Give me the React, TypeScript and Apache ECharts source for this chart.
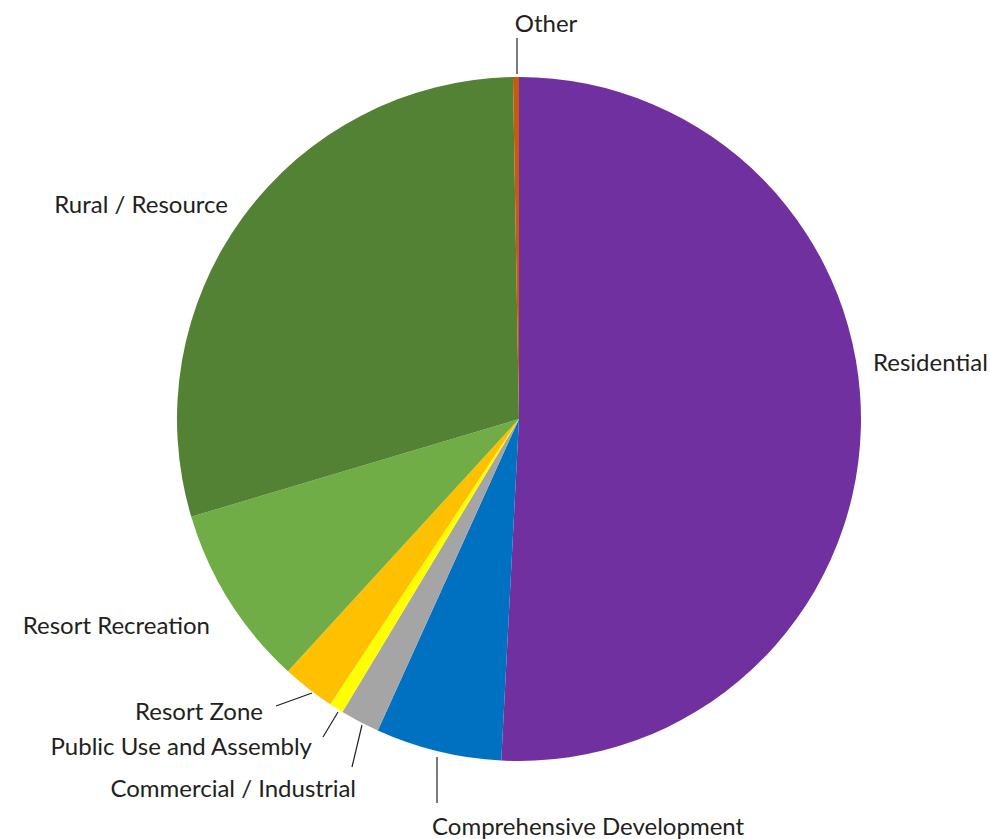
import React, { useEffect, useRef } from "react";
import * as echarts from "echarts";

const categories = [
  "Residential",
  "Comprehensive Development",
  "Commercial / Industrial",
  "Public Use and Assembly",
  "Resort Zone",
  "Resort Recreation",
  "Rural / Resource",
  "Other",
];
const values = [50.82, 5.95, 1.86, 0.67, 2.5, 8.58, 29.33, 0.28];
const colors = ["#7030A0", "#0070C0", "#A5A5A5", "#FFFF00", "#FFC000", "#70AD47", "#548235", "#C55A11"];

// label placement (styling): x, y, align, optional leader line points
type LabelPos = { x: number; y: number; align: string; line?: number[][] };
const labelPositions: LabelPos[] = [
  { x: 873, y: 361, align: "left" },
  { x: 432, y: 825, align: "left", line: [[437, 757], [437, 803]] },
  { x: 356, y: 787, align: "right", line: [[362, 725], [352, 767]] },
  { x: 312, y: 745, align: "right", line: [[338, 712], [323, 737]] },
  { x: 263, y: 710, align: "right", line: [[312, 693], [276, 706]] },
  { x: 210, y: 624, align: "right" },
  { x: 228, y: 203, align: "right" },
  { x: 546, y: 22, align: "center", line: [[517, 74], [517, 38]] },
];

export default function App() {
  const ref = useRef<HTMLDivElement>(null);
  useEffect(() => {
    document.body.style.margin = "0";
    const chart = echarts.init(ref.current!, null, { renderer: "svg" });
    chart.setOption({
      animation: false,
      backgroundColor: "#ffffff",
      series: [
        {
          type: "pie",
          center: [519, 419],
          radius: 342,
          startAngle: 90,
          clockwise: true,
          avoidLabelOverlap: false,
          itemStyle: { borderWidth: 0 },
          label: {
            show: true,
            position: "outside",
            formatter: "{b}",
            color: "#231f20",
            fontFamily: "Lato",
            fontSize: 24,
          },
          labelLine: {
            show: true,
            lineStyle: { color: "#231f20", width: 1.2 },
          },
          labelLayout: (params: any) => {
            const p = labelPositions[params.dataIndex];
            const res: any = {
              x: p.x,
              y: p.y,
              align: p.align,
              verticalAlign: "middle",
              hideOverlap: false,
            };
            if (p.line) res.labelLinePoints = [p.line[0], p.line[1], p.line[1]];
            return res;
          },
          data: categories.map((name, i) => ({
            name,
            value: values[i],
            itemStyle: { color: colors[i] },
            labelLine: { show: !!labelPositions[i].line },
          })),
        },
      ],
    });
    return () => chart.dispose();
  }, []);
  return <div ref={ref} style={{ width: 990, height: 839 }} />;
}
